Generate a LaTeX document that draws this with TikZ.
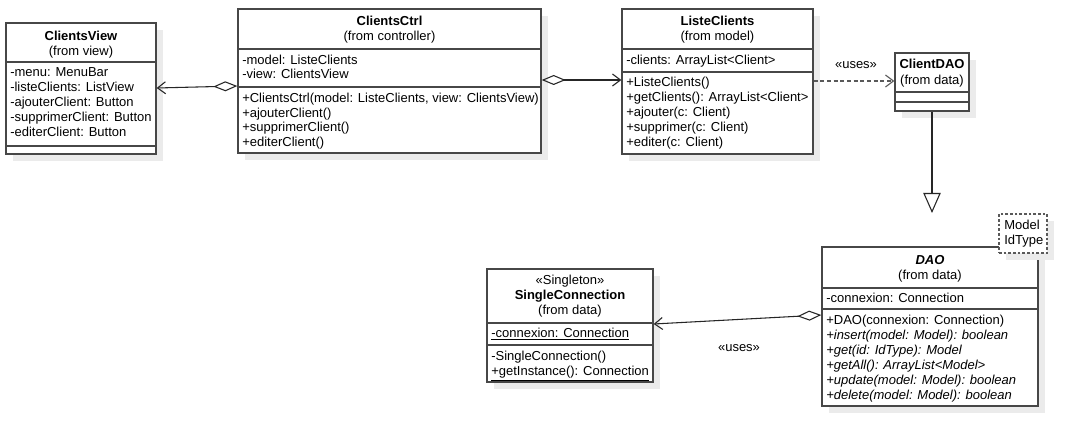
\documentclass[tikz,border=0pt]{standalone}
\usepackage{fontspec}
\setmainfont{Liberation Sans}
\usetikzlibrary{arrows.meta,fit}
\newcommand\umlbox[6][]{%
  \fill[shadowc] (#3+7,#4+7) rectangle (#5+7,#6+7);
  \node[box,#1,fit={(#3,#4) (#5,#6)}] (#2) {};}
\begin{document}
\begin{tikzpicture}[x=0.75pt,y=-0.75pt,
  box/.style={draw=black!72, line width=1pt, fill=white, inner sep=0pt},
  shadowc/.style={fill=black!8},
  sepline/.style={draw=black!72, line width=1pt},
  txt/.style={anchor=mid west, inner sep=0pt, font=\fontsize{9.75}{11}\selectfont},
  ttl/.style={anchor=mid, inner sep=0pt, font=\fontsize{9.75}{11}\selectfont},
  conn/.style={draw=black!85, line width=0.8pt},
  agg/.style={conn, {Diamond[open,length=18pt,width=7.5pt]}-{Straight Barb[length=6pt,width=9pt]}},
  dep/.style={draw=black!65, line width=0.8pt, dash pattern=on 3pt off 2pt, -{Straight Barb[length=6pt,width=9pt]}},
  gen/.style={conn, -{Triangle[open,length=15pt,width=13pt,fill=white]}},
]
\fill[white] (0,0) rectangle (1092,445);
\useasboundingbox (0,0) rectangle (1092,445);

% ClientsView
\umlbox{cv}{6}{23}{156}{154}
\node[ttl] (cv-t) at (81,37) {\textbf{ClientsView}};
\node[ttl] (cv-f) at (81,52) {(from view)};
\draw[sepline] (cv.west |- 0,62) -- (cv.east |- 0,62);
\node[txt] (cv-a1) at (10,73) {-menu: MenuBar};
\node[txt] (cv-a2) at (10,88) {-listeClients: ListView};
\node[txt] (cv-a3) at (10,103) {-ajouterClient: Button};
\node[txt] (cv-a4) at (10,118) {-supprimerClient: Button};
\node[txt] (cv-a5) at (10,133) {-editerClient: Button};
\draw[sepline] (cv.west |- 0,146) -- (cv.east |- 0,146);

% ClientsCtrl
\umlbox{cc}{238}{9}{541}{153}
\node[ttl] (cc-t) at (389.5,22) {\textbf{ClientsCtrl}};
\node[ttl] (cc-f) at (389.5,37) {(from controller)};
\draw[sepline] (cc.west |- 0,49) -- (cc.east |- 0,49);
\node[txt] (cc-a1) at (242,61) {-model: ListeClients};
\node[txt] (cc-a2) at (242,75) {-view: ClientsView};
\draw[sepline] (cc.west |- 0,87) -- (cc.east |- 0,87);
\node[txt] (cc-m1) at (242,99) {+ClientsCtrl(model: ListeClients, view: ClientsView)};
\node[txt] (cc-m2) at (242,113.5) {+ajouterClient()};
\node[txt] (cc-m3) at (242,128) {+supprimerClient()};
\node[txt] (cc-m4) at (242,142.5) {+editerClient()};

% ListeClients
\umlbox{lc}{622}{9}{813}{154}
\node[ttl] (lc-t) at (717.5,22) {\textbf{ListeClients}};
\node[ttl] (lc-f) at (717.5,37) {(from model)};
\draw[sepline] (lc.west |- 0,49) -- (lc.east |- 0,49);
\node[txt] (lc-a1) at (626,61) {-clients: ArrayList<Client>};
\draw[sepline] (lc.west |- 0,72) -- (lc.east |- 0,72);
\node[txt] (lc-m1) at (626,83) {+ListeClients()};
\node[txt] (lc-m2) at (626,98) {+getClients(): ArrayList<Client>};
\node[txt] (lc-m3) at (626,113) {+ajouter(c: Client)};
\node[txt] (lc-m4) at (626,128) {+supprimer(c: Client)};
\node[txt] (lc-m5) at (626,143) {+editer(c: Client)};

% ClientDAO
\umlbox{cd}{895}{53}{969}{111}
\node[ttl] (cd-t) at (932,65) {\textbf{ClientDAO}};
\node[ttl] (cd-f) at (932,81) {(from data)};
\draw[sepline] (cd.west |- 0,92) -- (cd.east |- 0,92);
\draw[sepline] (cd.west |- 0,102) -- (cd.east |- 0,102);

% DAO
\umlbox{dao}{822}{247}{1038}{406}
\node[ttl] (dao-t) at (930,261) {\textbf{\textit{DAO}}};
\node[ttl] (dao-f) at (930,276) {(from data)};
\draw[sepline] (dao.west |- 0,288) -- (dao.east |- 0,288);
\node[txt] (dao-a1) at (826,299) {-connexion: Connection};
\draw[sepline] (dao.west |- 0,309) -- (dao.east |- 0,309);
\node[txt] (dao-m1) at (826,321) {+DAO(connexion: Connection)};
\node[txt] (dao-m2) at (826,336) {\textit{+insert(model: Model): boolean}};
\node[txt] (dao-m3) at (826,351) {\textit{+get(id: IdType): Model}};
\node[txt] (dao-m4) at (826,366) {\textit{+getAll(): ArrayList<Model>}};
\node[txt] (dao-m5) at (826,381) {\textit{+update(model: Model): boolean}};
\node[txt] (dao-m6) at (826,396) {\textit{+delete(model: Model): boolean}};

% template parameters
\umlbox[draw=black!65, line width=0.8pt, dash pattern=on 2pt off 1.5pt]{tp}{999}{214}{1047}{253}
\node[txt] (tp-1) at (1004,226) {Model};
\node[txt] (tp-2) at (1004,241) {IdType};

% SingleConnection
\umlbox{sc}{487}{269}{653}{382}
\node[ttl] (sc-s) at (570,281) {«Singleton»};
\node[ttl] (sc-t) at (570,296) {\textbf{SingleConnection}};
\node[ttl] (sc-f) at (570,311) {(from data)};
\draw[sepline] (sc.west |- 0,323) -- (sc.east |- 0,323);
\node[txt] (sc-a1) at (491,334) {\underline{-connexion: Connection}};
\draw[sepline] (sc.west |- 0,345) -- (sc.east |- 0,345);
\node[txt] (sc-m1) at (491,357) {-SingleConnection()};
\node[txt] (sc-m2) at (491,372) {\underline{+getInstance(): Connection}};

% connectors
\draw[agg] (cc.west |- 0,86) -- (cv.east |- 0,88);
\draw[agg] (cc.east |- 0,80) -- (lc.west |- 0,80);
\draw[dep] (lc.east |- 0,81) -- (cd.west |- 0,81);
\node[ttl] (uses1) at (856,65) {«uses»};
\coordinate (gtip) at (932,213);
\draw[gen] (cd.south) -- (gtip);
\draw[agg] (dao.west |- 0,315) -- (sc.east |- 0,324);
\node[ttl] (uses2) at (739,348) {«uses»};
\end{tikzpicture}
\end{document}
